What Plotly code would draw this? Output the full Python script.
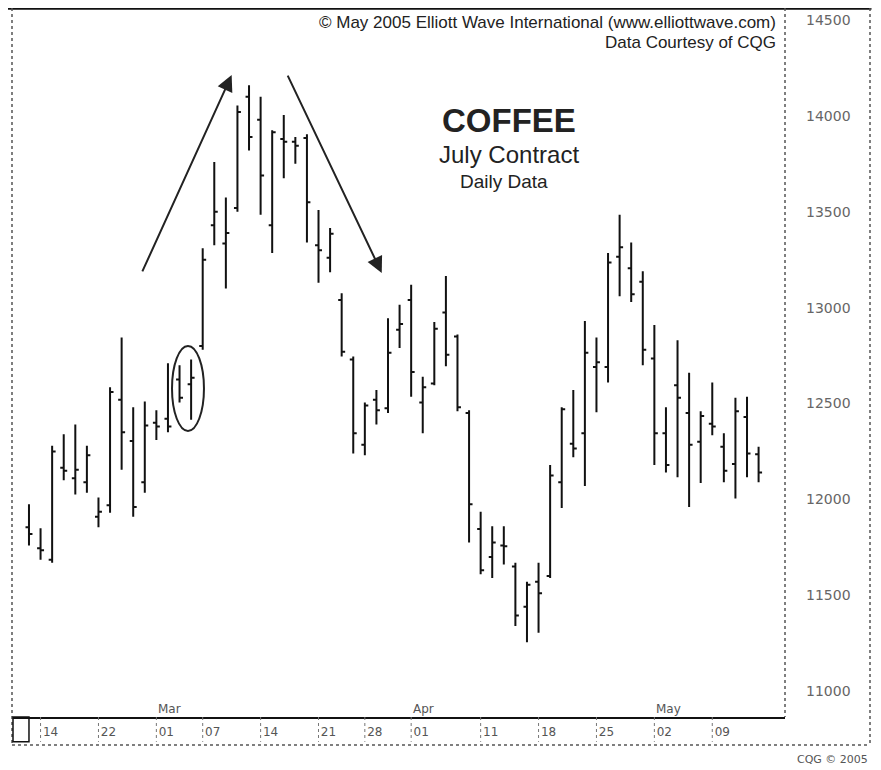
import pandas as pd
import plotly.graph_objects as go

# ---- data ----
holidays = ["2005-02-21", "2005-03-25"]
dates = [d.strftime("%Y-%m-%d") for d in pd.bdate_range("2005-02-11", "2005-05-13")
         if d.strftime("%Y-%m-%d") not in holidays]

open_ = [11855, 11745, 11685, 12165, 12110, 12090, 11910, 11970, 12520, 12305,
         12090, 12400, 12420, 12625, 12600, 12800, 13430, 13335, 13520, 14100,
         13980, 13430, 13880, 13865, 13885, 13325, 13260, 13040, 12730, 12285,
         12520, 12475, 12885, 13040, 12505, 12605, 12975, 12850, 12450, 11845,
         11700, 11760, 11650, 11440, 11570, 11600, 12090, 12290, 12345, 12690,
         12690, 13265, 13205, 13135, 12735, 12345, 12595, 12450, 12300, 12395,
         12275, 12185, 12430, 12235]
high = [11975, 11850, 12280, 12340, 12390, 12280, 12010, 12585, 12845, 12480,
        12510, 12465, 12710, 12700, 12730, 13310, 13760, 13575, 14055, 14160,
        14100, 13925, 14005, 13890, 13905, 13510, 13415, 13075, 12745, 12505,
        12570, 12945, 13015, 13120, 12640, 12925, 13165, 12860, 12465, 11935,
        11860, 11860, 11670, 11570, 11670, 12180, 12480, 12570, 12930, 12845,
        13285, 13485, 13340, 13190, 12910, 12480, 12830, 12660, 12460, 12610,
        12345, 12530, 12535, 12275]
low = [11760, 11685, 11670, 12100, 12025, 12035, 11855, 11930, 12155, 11910,
       12035, 12310, 12350, 12505, 12415, 12780, 13325, 13100, 13500, 13820,
       13485, 13285, 13675, 13750, 13340, 13130, 13185, 12745, 12240, 12230,
       12390, 12450, 12790, 12535, 12345, 12595, 12695, 12460, 11775, 11610,
       11590, 11660, 11340, 11255, 11305, 11590, 11955, 12220, 12070, 12455,
       12610, 13060, 13030, 12700, 12180, 12140, 12115, 11960, 12085, 12335,
       12090, 12005, 12115, 12090]
close = [11820, 11735, 12250, 12150, 12155, 12230, 11935, 12560, 12350, 11960,
         12385, 12380, 12380, 12530, 12635, 13250, 13500, 13390, 14020, 13890,
         13690, 13915, 13865, 13845, 13550, 13300, 13385, 12770, 12345, 12490,
         12465, 12765, 12915, 12665, 12585, 12890, 12755, 12480, 11975, 11630,
         11775, 11755, 11395, 11555, 11510, 12125, 12470, 12265, 12765, 12715,
         13235, 13315, 13070, 12780, 12345, 12180, 12530, 12285, 12435, 12380,
         12150, 12460, 12240, 12140]

tick_dates = ["2005-02-14", "2005-02-22", "2005-03-01", "2005-03-07", "2005-03-14",
              "2005-03-21", "2005-03-28", "2005-04-01", "2005-04-11", "2005-04-18",
              "2005-04-25", "2005-05-02", "2005-05-09"]
tick_labels = ["14", "22", "01", "07", "14", "21", "28", "01", "11", "18", "25", "02", "09"]
month_dates = ["2005-03-01", "2005-04-01", "2005-05-02"]
month_labels = ["Mar", "Apr", "May"]
y_ticks = [11000, 11500, 12000, 12500, 13000, 13500, 14000, 14500]

# ---- figure ----
bar_line = dict(color="#111111", width=2)
fig = go.Figure(go.Ohlc(
    x=dates, open=open_, high=high, low=low, close=close,
    increasing=dict(line=bar_line), decreasing=dict(line=bar_line),
    tickwidth=0.3, hoverinfo="skip", showlegend=False))

H_TXT = "Liberation Sans, Arial, sans-serif"
AX_TXT = "DejaVu Sans, sans-serif"

fig.update_layout(
    width=873, height=762,
    margin=dict(l=5, r=96, t=0, b=53),
    paper_bgcolor="white", plot_bgcolor="white",
    xaxis=dict(type="category", range=[-1.38, 65.28], rangeslider=dict(visible=False),
               showgrid=False, zeroline=False, showline=True, linecolor="#111",
               linewidth=1.5, ticks="", tickmode="array", tickvals=tick_dates,
               ticktext=tick_labels, tickfont=dict(family=AX_TXT, size=12, color="#555"),
               ticklabelshift=10, ticklabelstandoff=3),
    yaxis=dict(range=[10865, 14563], side="right", showgrid=False, zeroline=False,
               showline=False, ticks="", tickmode="array", tickvals=y_ticks,
               ticktext=[str(v) for v in y_ticks],
               tickfont=dict(family=AX_TXT, size=14, color="#666"),
               ticklabelstandoff=20),
)

shapes = []
# dotted tick marks in the date strip
for d in tick_dates:
    shapes.append(dict(type="line", xref="x", yref="paper", x0=d, x1=d, y0=0, y1=-0.035,
                       line=dict(color="#777", width=1, dash="dot")))
# frame
frame = dict(color="#555", width=1.5, dash="dot")
shapes += [
    dict(type="line", xref="paper", yref="paper", x0=-0.011, x1=1.112, y0=0.999, y1=0.999,
         line=dict(color="#111", width=2)),
    dict(type="line", xref="paper", yref="paper", x0=-0.0013, x1=-0.0013, y0=1.0, y1=-0.0395, line=frame),
    dict(type="line", xref="paper", yref="paper", x0=1.1101, x1=1.1101, y0=1.0, y1=-0.0395, line=frame),
    dict(type="line", xref="paper", yref="paper", x0=-0.0013, x1=1.1101, y0=-0.0395, y1=-0.0395, line=frame),
    dict(type="line", xref="paper", yref="paper", x0=1.0, x1=1.0, y0=1.0, y1=0.0, line=frame),
    dict(type="rect", xref="paper", yref="paper", x0=0.0, x1=0.0207, y0=0.0, y1=-0.035,
         line=dict(color="#111", width=1.5)),
    # ellipse around the highlighted bars
    dict(type="circle", xref="x", yref="y", x0=12.35, x1=15.11, y0=12357, y1=12800,
         line=dict(color="#222", width=2)),
]
fig.update_layout(shapes=shapes)

ann = []
ann.append(dict(xref="paper", yref="paper", x=0.991, y=0.980, xanchor="right", yanchor="middle",
                text="© May 2005 Elliott Wave International (www.elliottwave.com)", showarrow=False,
                font=dict(family=H_TXT, size=17, color="#222")))
ann.append(dict(xref="paper", yref="paper", x=0.991, y=0.951, xanchor="right", yanchor="middle",
                text="Data Courtesy of CQG", showarrow=False,
                font=dict(family=H_TXT, size=17, color="#222")))
ann.append(dict(xref="paper", yref="paper", x=0.6425, y=0.842, xanchor="center", yanchor="middle",
                text="<b>COFFEE</b>", showarrow=False, font=dict(family=H_TXT, size=33, color="#222")))
ann.append(dict(xref="paper", yref="paper", x=0.6425, y=0.7927, xanchor="center", yanchor="middle",
                text="July Contract", showarrow=False, font=dict(family=H_TXT, size=24, color="#222")))
ann.append(dict(xref="paper", yref="paper", x=0.636, y=0.7546, xanchor="center", yanchor="middle",
                text="Daily Data", showarrow=False, font=dict(family=H_TXT, size=19, color="#222")))
ann.append(dict(xref="paper", yref="paper", x=1.110, y=-0.0606, xanchor="right", yanchor="middle",
                text="CQG © 2005", showarrow=False, font=dict(family=AX_TXT, size=11, color="#555")))
for d, m in zip(month_dates, month_labels):
    ann.append(dict(xref="x", yref="paper", x=d, y=0.0113, xanchor="left", yanchor="middle",
                    text=m, showarrow=False, font=dict(family=AX_TXT, size=12, color="#555")))
# trend arrows
ann.append(dict(xref="x", yref="y", axref="x", ayref="y", x=17.5, y=14213, ax=9.73, ay=13181,
                text="", showarrow=True, arrowhead=2, arrowsize=1.6, arrowwidth=2, arrowcolor="#222"))
ann.append(dict(xref="x", yref="y", axref="x", ayref="y", x=30.46, y=13181, ax=22.28, ay=14218,
                text="", showarrow=True, arrowhead=2, arrowsize=1.6, arrowwidth=2, arrowcolor="#222"))
fig.update_layout(annotations=ann)

fig.write_html("out.html")
